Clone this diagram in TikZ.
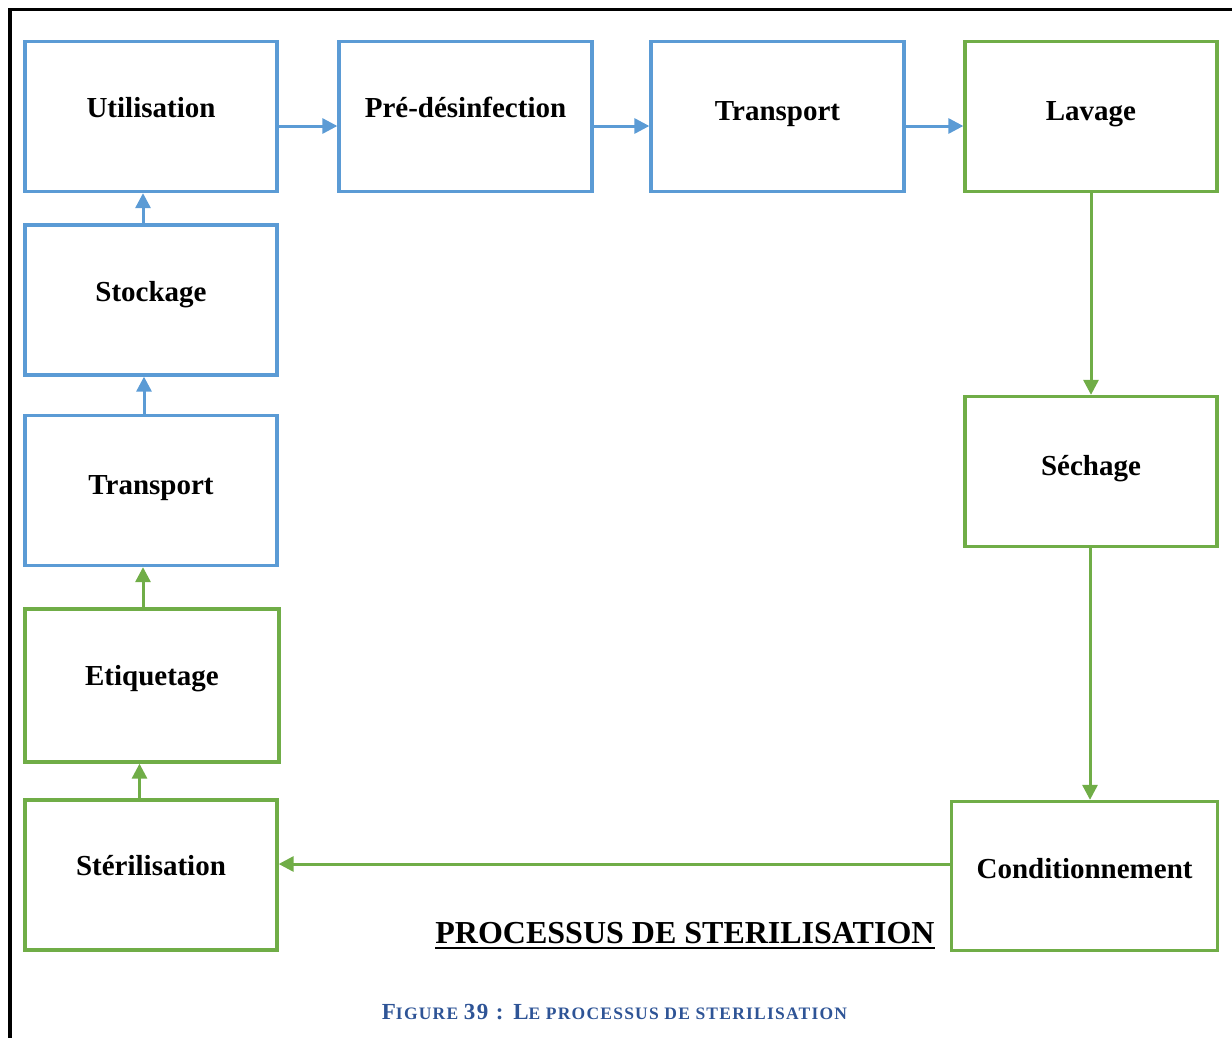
\documentclass[tikz,border=0pt]{standalone}
\usepackage{fontspec}
\setmainfont{Liberation Serif}
\newfontfamily\capfont[LetterSpace=7]{Liberation Serif}
\usetikzlibrary{arrows.meta}
\definecolor{cblue}{HTML}{5B9BD5}
\definecolor{cgreen}{HTML}{70AD47}
\definecolor{capblue}{HTML}{2E5496}
\begin{document}
\begin{tikzpicture}[x=1pt,y=-1pt,
  box/.style={draw, line width=3.3pt, minimum width=252pt, minimum height=150pt,
    inner sep=0pt, font=\fontsize{29}{32}\selectfont\bfseries,
    text height=20pt, text depth=20pt},
  bbox/.style={box, draw=cblue},
  gbox/.style={box, draw=cgreen},
  arr/.style={line width=3pt, -{Triangle[length=15pt,width=15pt]}},
  barr/.style={arr, draw=cblue},
  garr/.style={arr, draw=cgreen}]
\useasboundingbox (0,0) rectangle (1232,1037);
% frame
\draw[line width=3.5pt] (10,1040) -- (10,9.5) -- (1235,9.5);
% boxes
\node[bbox, text height=21pt, text depth=19pt] (util) at (151,116.5) {Utilisation};
\node[bbox, minimum width=253pt, text height=21pt, text depth=19pt] (pre) at (465.5,116.5) {Pré-désinfection};
\node[bbox, minimum width=253pt, text height=24pt, text depth=16pt] (trA) at (777.5,116.5) {Transport};
\node[gbox, text height=24pt, text depth=16pt] (lav) at (1091,116.5) {Lavage};
\node[bbox, text height=21pt, text depth=19pt] (stock) at (151,300) {Stockage};
\node[bbox, text height=23.5pt, text depth=16.5pt] (trB) at (151,490.5) {Transport};
\node[gbox, minimum width=254pt, minimum height=153pt] (etiq) at (152,685.5) {Etiquetage};
\node[gbox] (ster) at (151,875) {Stérilisation};
\node[gbox, text height=23.5pt, text depth=16.5pt] (sech) at (1091,471.5) {Séchage};
\node[gbox, minimum width=266pt, minimum height=149pt, text height=22pt, text depth=18pt] (cond) at (1084.6,876) {Conditionnement};
% connectors
\draw[barr] ([yshift=-9.5pt]util.east) -- ([yshift=-9.5pt]util.east -| pre.west);
\draw[barr] ([yshift=-9.5pt]pre.east) -- ([yshift=-9.5pt]pre.east -| trA.west);
\draw[barr] ([yshift=-9.5pt]trA.east) -- ([yshift=-9.5pt]trA.east -| lav.west);
\draw[garr] (lav.south) -- (lav.south |- sech.north);
\draw[garr] ([xshift=-1pt]sech.south) -- ([xshift=-1pt]sech.south |- cond.north);
\draw[garr] ([yshift=12pt]cond.west) -- ([yshift=12pt]cond.west -| ster.east);
\draw[garr] ([xshift=-11.5pt]ster.north) -- ([xshift=-11.5pt]ster.north |- etiq.south);
\draw[garr] ([xshift=-9pt]etiq.north) -- ([xshift=-9pt]etiq.north |- trB.south);
\draw[barr] ([xshift=-7pt]trB.north) -- ([xshift=-7pt]trB.north |- stock.south);
\draw[barr] ([xshift=-8pt]stock.north) -- ([xshift=-8pt]stock.north |- util.south);
% title
\node[font=\fontsize{32}{36}\selectfont\bfseries, inner sep=0pt, anchor=base] (title) at (685,943) {PROCESSUS DE STERILISATION};
\draw[line width=2.5pt] ([yshift=-5pt]title.base west) -- ([yshift=-5pt]title.base east);
% caption
\node[text=capblue, inner sep=0pt, anchor=base] (cap) at (614.5,1019)
  {\capfont\bfseries\fontsize{23}{26}\selectfont F\fontsize{17.5}{20}\selectfont IGURE \fontsize{23}{26}\selectfont 39 : L\fontsize{17.5}{20}\selectfont E PROCESSUS DE STERILISATION};
\end{tikzpicture}
\end{document}
